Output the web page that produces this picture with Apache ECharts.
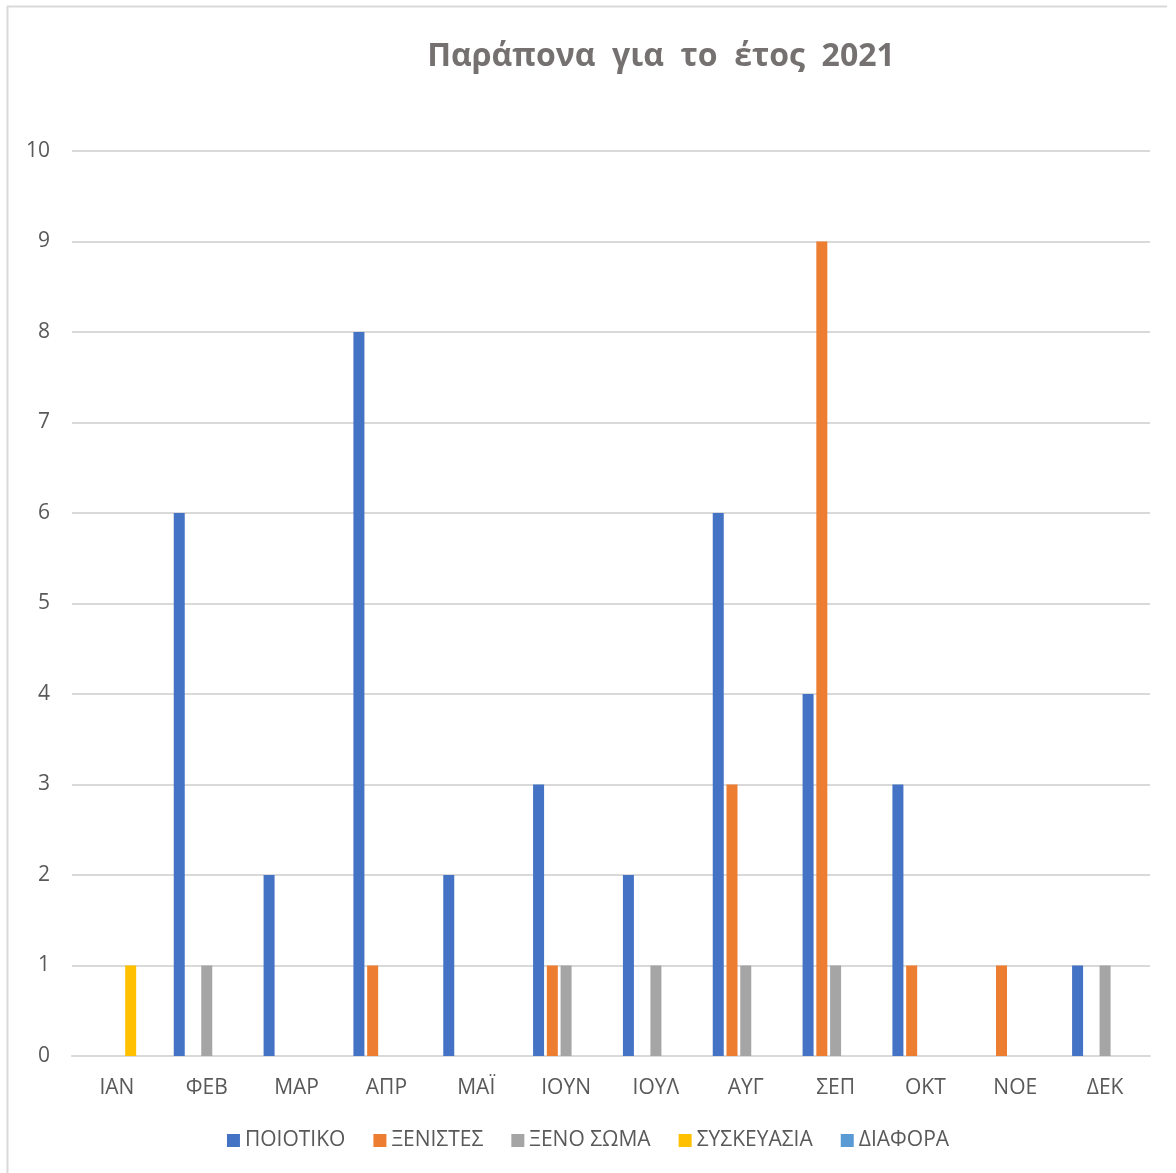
<!DOCTYPE html>
<html>
<head>
<meta charset="utf-8">
<script src="https://cdn.jsdelivr.net/npm/echarts@6/dist/echarts.min.js"></script>
<style>
  html, body { margin: 0; padding: 0; background: #fff; }
  #chart { width: 1176px; height: 1173px; }
</style>
</head>
<body>
<div id="chart"></div>
<script>
// Complaints per month, by type
const months = ['ΙΑΝ', 'ΦΕΒ', 'ΜΑΡ', 'ΑΠΡ', 'ΜΑΪ', 'ΙΟΥΝ', 'ΙΟΥΛ', 'ΑΥΓ', 'ΣΕΠ', 'ΟΚΤ', 'ΝΟΕ', 'ΔΕΚ'];
const seriesNames = ['ΠΟΙΟΤΙΚΟ', 'ΞΕΝΙΣΤΕΣ', 'ΞΕΝΟ ΣΩΜΑ', 'ΣΥΣΚΕΥΑΣΙΑ', 'ΔΙΑΦΟΡΑ'];
const poiotiko    = [0, 6, 2, 8, 2, 3, 2, 6, 4, 3, 0, 1];
const xenistes    = [0, 0, 0, 1, 0, 1, 0, 3, 9, 1, 1, 0];
const xenoSoma    = [0, 1, 0, 0, 0, 1, 1, 1, 1, 0, 0, 1];
const syskevasia  = [1, 0, 0, 0, 0, 0, 0, 0, 0, 0, 0, 0];
const diafora     = [0, 0, 0, 0, 0, 0, 0, 0, 0, 0, 0, 0];
const colors = ['#4472C4', '#ED7D31', '#A5A5A5', '#FFC000', '#5B9BD5'];
const values = [poiotiko, xenistes, xenoSoma, syskevasia, diafora];

const font = '"Open Sans", "Noto Sans", sans-serif';

const chart = echarts.init(document.getElementById('chart'), null, { renderer: 'canvas' });
chart.setOption({
  animation: false,
  color: colors,
  textStyle: { fontFamily: font },
  title: {
    text: 'Παράπονα  για  το  έτος  2021',
    left: 656,
    textAlign: 'center',
    top: 36,
    textStyle: { fontFamily: font, fontSize: 32, fontWeight: 'bold', color: '#757171' }
  },
  grid: { left: 72, right: 26, top: 151, bottom: 117, containLabel: false },
  legend: {
    bottom: 17,
    left: 'center',
    itemWidth: 13,
    itemHeight: 13,
    itemGap: 28,
    icon: 'rect',
    textStyle: { fontFamily: font, fontSize: 21, color: '#595959' },
    data: seriesNames
  },
  xAxis: {
    type: 'category',
    data: months,
    axisLine: { show: true, lineStyle: { color: '#D9D9D9', width: 2 } },
    axisTick: { show: false },
    axisLabel: { fontFamily: font, fontSize: 21, color: '#595959', margin: 22 }
  },
  yAxis: {
    type: 'value',
    min: 0,
    max: 10,
    interval: 1,
    axisLine: { show: false },
    axisTick: { show: false },
    splitLine: { lineStyle: { color: '#D9D9D9', width: 2 } },
    axisLabel: { fontFamily: font, fontSize: 21, color: '#595959', margin: 22 }
  },
  series: seriesNames.map((name, i) => ({
    name,
    type: 'bar',
    data: values[i],
    barWidth: 11,
    barGap: '25%',
    itemStyle: { color: colors[i] }
  })),
  graphic: [
    { type: 'line', shape: { x1: 7, y1: 6.5, x2: 1167, y2: 6.5 }, style: { stroke: '#D9D9D9', lineWidth: 2 } },
    { type: 'line', shape: { x1: 7.5, y1: 6, x2: 7.5, y2: 1173 }, style: { stroke: '#D9D9D9', lineWidth: 2 } }
  ]
});
</script>
</body>
</html>
